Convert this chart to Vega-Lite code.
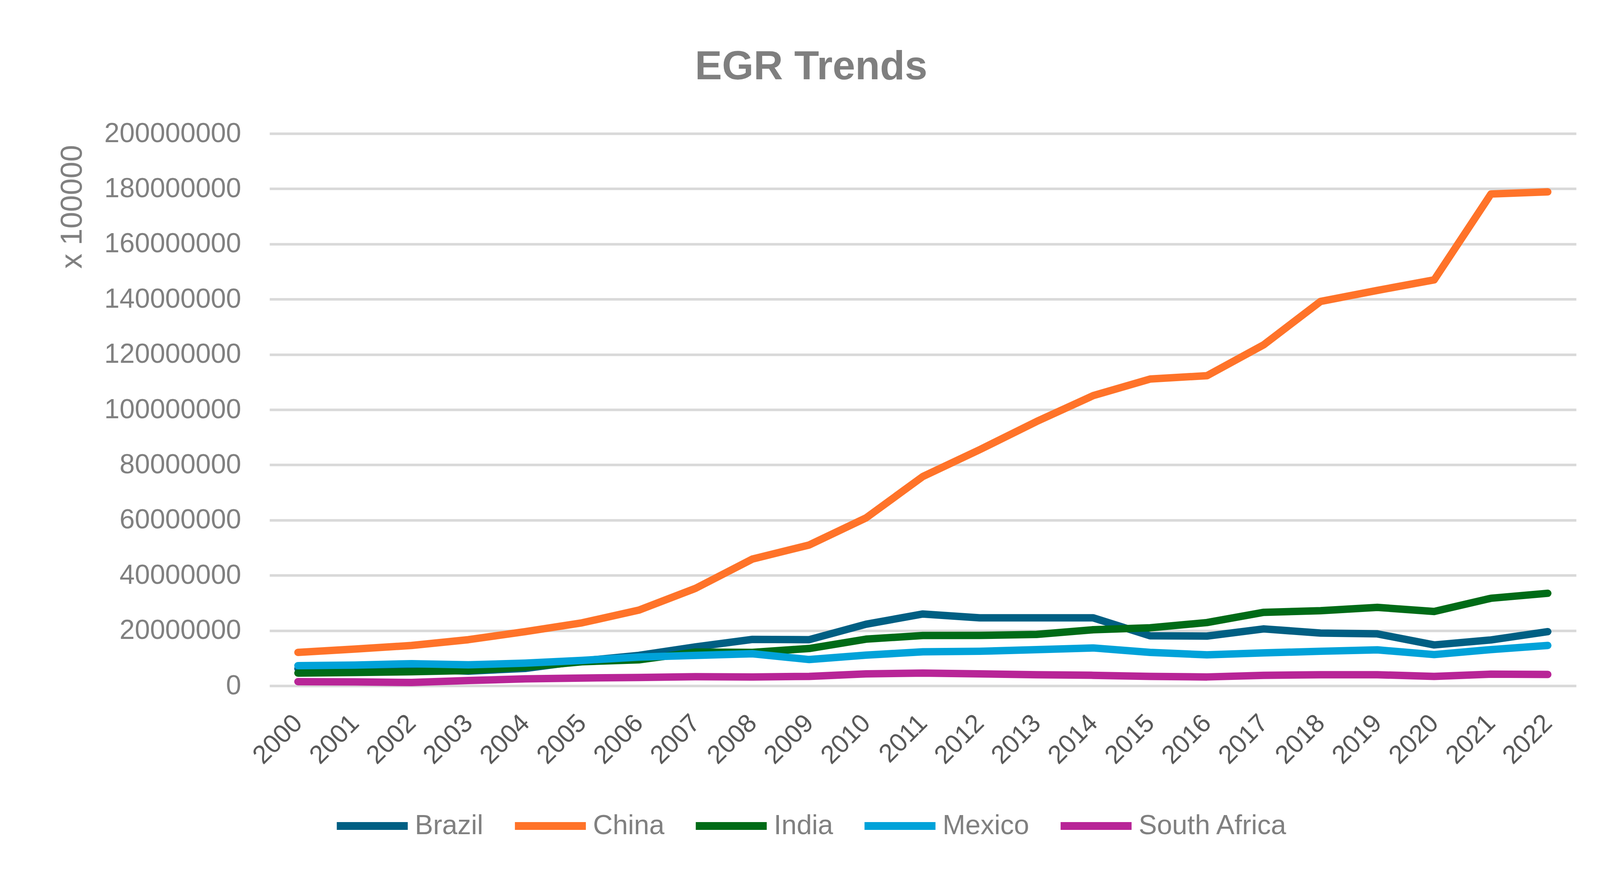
{
  "$schema": "https://vega.github.io/schema/vega-lite/v6.json",
  "width": 3345,
  "height": 1414,
  "autosize": "none",
  "padding": {"left": 690, "top": 342, "right": 120, "bottom": 505},
  "background": "white",
  "title": {
    "text": "EGR Trends",
    "font": "Liberation Sans",
    "fontSize": 104,
    "fontWeight": "bold",
    "color": "#7f7f7f",
    "anchor": "middle",
    "frame": "group",
    "dx": -286,
    "baseline": "alphabetic",
    "offset": 0
  },
  "data": {
    "values": [
      {"year": "2000", "country": "Brazil", "value": 6200000},
      {"year": "2001", "country": "Brazil", "value": 6000000},
      {"year": "2002", "country": "Brazil", "value": 5900000},
      {"year": "2003", "country": "Brazil", "value": 5300000},
      {"year": "2004", "country": "Brazil", "value": 6300000},
      {"year": "2005", "country": "Brazil", "value": 9000000},
      {"year": "2006", "country": "Brazil", "value": 11000000},
      {"year": "2007", "country": "Brazil", "value": 14100000},
      {"year": "2008", "country": "Brazil", "value": 16800000},
      {"year": "2009", "country": "Brazil", "value": 16700000},
      {"year": "2010", "country": "Brazil", "value": 22300000},
      {"year": "2011", "country": "Brazil", "value": 26000000},
      {"year": "2012", "country": "Brazil", "value": 24600000},
      {"year": "2013", "country": "Brazil", "value": 24600000},
      {"year": "2014", "country": "Brazil", "value": 24600000},
      {"year": "2015", "country": "Brazil", "value": 18100000},
      {"year": "2016", "country": "Brazil", "value": 18000000},
      {"year": "2017", "country": "Brazil", "value": 20600000},
      {"year": "2018", "country": "Brazil", "value": 19100000},
      {"year": "2019", "country": "Brazil", "value": 18800000},
      {"year": "2020", "country": "Brazil", "value": 14800000},
      {"year": "2021", "country": "Brazil", "value": 16600000},
      {"year": "2022", "country": "Brazil", "value": 19600000},
      {"year": "2000", "country": "China", "value": 12100000},
      {"year": "2001", "country": "China", "value": 13300000},
      {"year": "2002", "country": "China", "value": 14600000},
      {"year": "2003", "country": "China", "value": 16700000},
      {"year": "2004", "country": "China", "value": 19600000},
      {"year": "2005", "country": "China", "value": 22800000},
      {"year": "2006", "country": "China", "value": 27400000},
      {"year": "2007", "country": "China", "value": 35300000},
      {"year": "2008", "country": "China", "value": 45900000},
      {"year": "2009", "country": "China", "value": 51000000},
      {"year": "2010", "country": "China", "value": 60800000},
      {"year": "2011", "country": "China", "value": 75800000},
      {"year": "2012", "country": "China", "value": 85500000},
      {"year": "2013", "country": "China", "value": 95700000},
      {"year": "2014", "country": "China", "value": 105100000},
      {"year": "2015", "country": "China", "value": 111100000},
      {"year": "2016", "country": "China", "value": 112300000},
      {"year": "2017", "country": "China", "value": 123500000},
      {"year": "2018", "country": "China", "value": 139200000},
      {"year": "2019", "country": "China", "value": 143200000},
      {"year": "2020", "country": "China", "value": 147000000},
      {"year": "2021", "country": "China", "value": 178100000},
      {"year": "2022", "country": "China", "value": 178900000},
      {"year": "2000", "country": "India", "value": 4600000},
      {"year": "2001", "country": "India", "value": 4800000},
      {"year": "2002", "country": "India", "value": 5100000},
      {"year": "2003", "country": "India", "value": 5500000},
      {"year": "2004", "country": "India", "value": 6800000},
      {"year": "2005", "country": "India", "value": 8700000},
      {"year": "2006", "country": "India", "value": 9400000},
      {"year": "2007", "country": "India", "value": 12200000},
      {"year": "2008", "country": "India", "value": 12100000},
      {"year": "2009", "country": "India", "value": 13500000},
      {"year": "2010", "country": "India", "value": 16900000},
      {"year": "2011", "country": "India", "value": 18200000},
      {"year": "2012", "country": "India", "value": 18250000},
      {"year": "2013", "country": "India", "value": 18600000},
      {"year": "2014", "country": "India", "value": 20300000},
      {"year": "2015", "country": "India", "value": 21000000},
      {"year": "2016", "country": "India", "value": 22900000},
      {"year": "2017", "country": "India", "value": 26600000},
      {"year": "2018", "country": "India", "value": 27200000},
      {"year": "2019", "country": "India", "value": 28400000},
      {"year": "2020", "country": "India", "value": 26900000},
      {"year": "2021", "country": "India", "value": 31700000},
      {"year": "2022", "country": "India", "value": 33500000},
      {"year": "2000", "country": "Mexico", "value": 7300000},
      {"year": "2001", "country": "Mexico", "value": 7500000},
      {"year": "2002", "country": "Mexico", "value": 8000000},
      {"year": "2003", "country": "Mexico", "value": 7600000},
      {"year": "2004", "country": "Mexico", "value": 8200000},
      {"year": "2005", "country": "Mexico", "value": 9200000},
      {"year": "2006", "country": "Mexico", "value": 10400000},
      {"year": "2007", "country": "Mexico", "value": 11000000},
      {"year": "2008", "country": "Mexico", "value": 11600000},
      {"year": "2009", "country": "Mexico", "value": 9500000},
      {"year": "2010", "country": "Mexico", "value": 11100000},
      {"year": "2011", "country": "Mexico", "value": 12300000},
      {"year": "2012", "country": "Mexico", "value": 12500000},
      {"year": "2013", "country": "Mexico", "value": 13100000},
      {"year": "2014", "country": "Mexico", "value": 13700000},
      {"year": "2015", "country": "Mexico", "value": 12100000},
      {"year": "2016", "country": "Mexico", "value": 11200000},
      {"year": "2017", "country": "Mexico", "value": 11900000},
      {"year": "2018", "country": "Mexico", "value": 12500000},
      {"year": "2019", "country": "Mexico", "value": 13000000},
      {"year": "2020", "country": "Mexico", "value": 11300000},
      {"year": "2021", "country": "Mexico", "value": 13100000},
      {"year": "2022", "country": "Mexico", "value": 14600000},
      {"year": "2000", "country": "South Africa", "value": 1500000},
      {"year": "2001", "country": "South Africa", "value": 1400000},
      {"year": "2002", "country": "South Africa", "value": 1200000},
      {"year": "2003", "country": "South Africa", "value": 1900000},
      {"year": "2004", "country": "South Africa", "value": 2500000},
      {"year": "2005", "country": "South Africa", "value": 2800000},
      {"year": "2006", "country": "South Africa", "value": 3000000},
      {"year": "2007", "country": "South Africa", "value": 3300000},
      {"year": "2008", "country": "South Africa", "value": 3200000},
      {"year": "2009", "country": "South Africa", "value": 3400000},
      {"year": "2010", "country": "South Africa", "value": 4300000},
      {"year": "2011", "country": "South Africa", "value": 4600000},
      {"year": "2012", "country": "South Africa", "value": 4300000},
      {"year": "2013", "country": "South Africa", "value": 4000000},
      {"year": "2014", "country": "South Africa", "value": 3800000},
      {"year": "2015", "country": "South Africa", "value": 3400000},
      {"year": "2016", "country": "South Africa", "value": 3200000},
      {"year": "2017", "country": "South Africa", "value": 3800000},
      {"year": "2018", "country": "South Africa", "value": 4000000},
      {"year": "2019", "country": "South Africa", "value": 4000000},
      {"year": "2020", "country": "South Africa", "value": 3400000},
      {"year": "2021", "country": "South Africa", "value": 4200000},
      {"year": "2022", "country": "South Africa", "value": 4100000}
    ]
  },
  "mark": {"type": "line", "strokeWidth": 19, "strokeCap": "round", "strokeJoin": "round"},
  "encoding": {
    "x": {
      "field": "year",
      "type": "ordinal",
      "scale": {"type": "point", "padding": 0.5},
      "axis": {
        "title": null,
        "labelAngle": -45,
        "labelAlign": "right",
        "labelBaseline": "middle",
        "labelFont": "Liberation Sans",
        "labelFontSize": 66,
        "labelColor": "#595959",
        "labelPadding": 85,
        "labelLimit": 1000,
        "ticks": false,
        "domain": false,
        "grid": false
      }
    },
    "y": {
      "field": "value",
      "type": "quantitative",
      "scale": {"domain": [0, 200000000], "nice": false},
      "axis": {
        "title": "x 100000",
        "values": [0, 20000000, 40000000, 60000000, 80000000, 100000000, 120000000, 140000000, 160000000, 180000000, 200000000],
        "format": "d",
        "labelFont": "Liberation Sans",
        "labelFontSize": 70,
        "labelColor": "#808080",
        "labelPadding": 73,
        "labelLimit": 1000,
        "ticks": false,
        "domain": false,
        "gridColor": "#d9d9d9",
        "gridWidth": 6.7,
        "titleFont": "Liberation Sans",
        "titleFontSize": 77,
        "titleFontWeight": "normal",
        "titleColor": "#808080",
        "titleX": -505,
        "titleY": 187,
        "titleAngle": -90,
        "titleAlign": "center",
        "titleBaseline": "middle"
      }
    },
    "color": {
      "field": "country",
      "type": "nominal",
      "scale": {
        "domain": ["Brazil", "China", "India", "Mexico", "South Africa"],
        "range": ["#005f83", "#ff7329", "#006b17", "#00a2d9", "#b82597"]
      },
      "legend": {
        "title": null,
        "orient": "none",
        "direction": "horizontal",
        "legendX": 162,
        "legendY": 1672,
        "symbolType": "stroke",
        "symbolSize": 33000,
        "symbolStrokeWidth": 20,
        "labelFont": "Liberation Sans",
        "labelFontSize": 70,
        "labelColor": "#808080",
        "labelOffset": 8,
        "labelLimit": 1000,
        "columnPadding": 40
      }
    }
  },
  "config": {"view": {"stroke": null}}
}
